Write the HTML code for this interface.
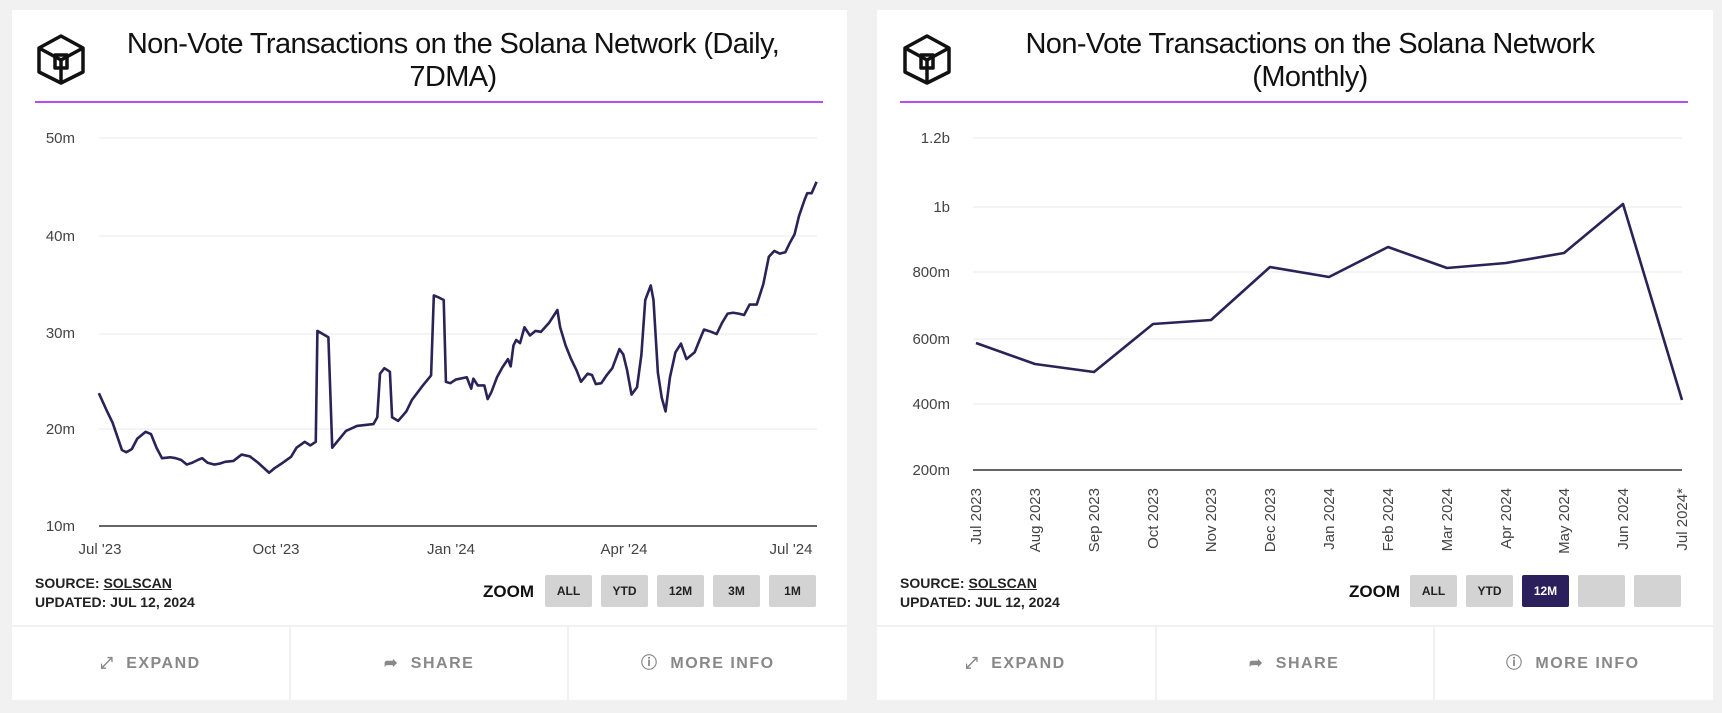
<!DOCTYPE html>
<html><head><meta charset="utf-8"><style>
body{margin:0;width:1722px;height:713px;background:#f1f1f1;font-family:"Liberation Sans",sans-serif;position:relative;overflow:hidden}
.card{position:absolute;top:10px;height:690px;background:#fff}
.abs{position:absolute}
.title{position:absolute;font-size:29px;line-height:33px;color:#111;text-align:center;letter-spacing:-0.6px}
.rule{position:absolute;height:2px;background:#b94cf2}
.yl{position:absolute;font-size:15px;color:#444;text-align:right;width:60px}
.xl{position:absolute;font-size:15px;color:#444;transform:translateX(-50%)}
.src{position:absolute;font-size:14px;font-weight:bold;color:#222;line-height:19px}
.zoom{position:absolute;font-size:17px;font-weight:bold;color:#111}
.btn{position:absolute;width:47px;height:32px;background:#d3d3d3;font-size:12px;font-weight:bold;color:#222;text-align:center;line-height:32px;border-radius:2px}
.foot{position:absolute;top:625px;height:75px;border-top:2px solid #f1f1f1}
.div{position:absolute;top:627px;width:2px;height:73px;background:#f1f1f1}
.ft{position:absolute;top:654px;font-size:16px;font-weight:bold;color:#888;letter-spacing:1.5px;line-height:20px}
.rl{position:absolute;font-size:15px;color:#444;transform-origin:0 0;transform:rotate(-90deg);white-space:nowrap;text-align:right;width:80px}
</style></head><body>
<div class="card" style="left:12px;width:835px"></div>
<div class="card" style="left:877px;width:836px"></div>

<svg class="abs" style="left:36px;top:34px" width="50" height="51" viewBox="0 0 50 51"><g fill="none" stroke="#111" stroke-width="3.5" stroke-linejoin="round"><polygon points="25,2 47,14 47,38 25,49 3,38 3,14"/><polyline points="3,14 25,26 47,14"/><line x1="25" y1="26" x2="25" y2="49"/><rect x="19" y="21" width="12" height="13"/></g></svg>
<svg class="abs" style="left:902px;top:34px" width="50" height="51" viewBox="0 0 50 51"><g fill="none" stroke="#111" stroke-width="3.5" stroke-linejoin="round"><polygon points="25,2 47,14 47,38 25,49 3,38 3,14"/><polyline points="3,14 25,26 47,14"/><line x1="25" y1="26" x2="25" y2="49"/><rect x="19" y="21" width="12" height="13"/></g></svg>

<div class="title" style="left:88px;width:730px;top:28px">Non-Vote Transactions on the Solana Network (Daily,<br>7DMA)</div>
<div class="title" style="left:960px;width:700px;top:28px">Non-Vote Transactions on the Solana Network<br>(Monthly)</div>
<div class="rule" style="left:35px;width:788px;top:101px"></div>
<div class="rule" style="left:900px;width:788px;top:101px"></div>

<svg class="abs" style="left:0;top:0" width="861" height="713">
<g stroke="#e8e8e8" stroke-width="1"><line x1="99" x2="817" y1="138" y2="138"/><line x1="99" x2="817" y1="236" y2="236"/><line x1="99" x2="817" y1="334" y2="334"/><line x1="99" x2="817" y1="429" y2="429"/></g>
<line x1="99" x2="817" y1="526" y2="526" stroke="#333" stroke-width="1.5"/>
<g transform="scale(0.54915,0.45455)"><polyline fill="none" stroke="#2b2257" stroke-width="2.6" vector-effect="non-scaling-stroke" stroke-linejoin="round" points="180,865 195,905 205,930 215,965 222,990 230,995 240,988 250,965 265,950 275,955 285,985 295,1008 310,1006 320,1008 330,1012 340,1022 350,1018 360,1012 368,1008 378,1018 390,1022 400,1020 410,1016 425,1014 440,1000 455,1004 470,1018 490,1040 500,1030 515,1018 530,1005 540,985 555,972 565,980 575,972 578,728 598,742 605,985 615,970 630,948 650,937 680,933 687,918 692,822 700,810 710,818 714,918 725,926 740,905 750,880 770,848 785,826 790,650 800,655 808,660 812,840 820,843 830,835 850,830 858,855 862,833 870,848 882,848 888,878 895,862 905,830 915,808 925,790 930,806 935,760 940,748 947,755 955,720 965,738 975,728 985,730 1000,710 1015,682 1020,720 1030,760 1040,790 1050,815 1058,840 1070,822 1078,825 1085,845 1095,843 1105,825 1115,810 1128,768 1135,780 1142,815 1150,868 1160,852 1168,780 1175,660 1185,628 1190,660 1198,820 1205,875 1212,905 1220,830 1230,775 1240,756 1250,790 1265,775 1275,745 1282,725 1295,730 1305,735 1315,710 1325,690 1335,688 1345,690 1355,693 1365,670 1378,670 1390,625 1400,565 1410,552 1420,558 1430,555 1438,535 1447,515 1455,475 1465,440 1470,425 1478,425 1487,400"/></g>
</svg>
<div class="yl" style="left:15px;top:130px">50m</div>
<div class="yl" style="left:15px;top:228px">40m</div>
<div class="yl" style="left:15px;top:325px">30m</div>
<div class="yl" style="left:15px;top:421px">20m</div>
<div class="yl" style="left:15px;top:518px">10m</div>
<div class="xl" style="left:100px;top:541px">Jul '23</div>
<div class="xl" style="left:276px;top:541px">Oct '23</div>
<div class="xl" style="left:451px;top:541px">Jan '24</div>
<div class="xl" style="left:624px;top:541px">Apr '24</div>
<div class="xl" style="left:791px;top:541px">Jul '24</div>
<div class="src" style="left:35px;top:574px">SOURCE: <u>SOLSCAN</u><br>UPDATED: JUL 12, 2024</div>
<div class="zoom" style="left:483px;top:582px">ZOOM</div>
<div class="btn" style="left:545px;top:575px">ALL</div>
<div class="btn" style="left:601px;top:575px">YTD</div>
<div class="btn" style="left:657px;top:575px">12M</div>
<div class="btn" style="left:713px;top:575px">3M</div>
<div class="btn" style="left:769px;top:575px">1M</div>
<div class="foot" style="left:12px;width:835px"></div>
<div class="div" style="left:289px"></div><div class="div" style="left:567px"></div>
<div class="ft" style="left:100px">⤢&nbsp; EXPAND</div>
<div class="ft" style="left:384px">➦&nbsp; SHARE</div>
<div class="ft" style="left:641px">ⓘ&nbsp; MORE INFO</div>

<svg class="abs" style="left:0;top:0" width="1722" height="713">
<g stroke="#e8e8e8" stroke-width="1"><line x1="973" x2="1682" y1="138" y2="138"/><line x1="973" x2="1682" y1="207" y2="207"/><line x1="973" x2="1682" y1="272" y2="272"/><line x1="973" x2="1682" y1="339" y2="339"/><line x1="973" x2="1682" y1="404" y2="404"/></g>
<line x1="973" x2="1682" y1="470" y2="470" stroke="#333" stroke-width="1.5"/>
<polyline fill="none" stroke="#2b2257" stroke-width="2.6" stroke-linejoin="round" points="976,343 1035,364 1094,372 1153,324 1211,320 1270,267 1329,277 1388,247 1447,268 1506,263 1564,253 1623,204 1682,400"/>
</svg>
<div class="yl" style="left:890px;top:130px">1.2b</div>
<div class="yl" style="left:890px;top:199px">1b</div>
<div class="yl" style="left:890px;top:264px">800m</div>
<div class="yl" style="left:890px;top:331px">600m</div>
<div class="yl" style="left:890px;top:396px">400m</div>
<div class="yl" style="left:890px;top:462px">200m</div>
<div class="rl" style="left:968px;top:568px">Jul 2023</div>
<div class="rl" style="left:1027px;top:568px">Aug 2023</div>
<div class="rl" style="left:1086px;top:568px">Sep 2023</div>
<div class="rl" style="left:1145px;top:568px">Oct 2023</div>
<div class="rl" style="left:1203px;top:568px">Nov 2023</div>
<div class="rl" style="left:1262px;top:568px">Dec 2023</div>
<div class="rl" style="left:1321px;top:568px">Jan 2024</div>
<div class="rl" style="left:1380px;top:568px">Feb 2024</div>
<div class="rl" style="left:1439px;top:568px">Mar 2024</div>
<div class="rl" style="left:1498px;top:568px">Apr 2024</div>
<div class="rl" style="left:1556px;top:568px">May 2024</div>
<div class="rl" style="left:1615px;top:568px">Jun 2024</div>
<div class="rl" style="left:1674px;top:568px">Jul 2024*</div>
<div class="src" style="left:900px;top:574px">SOURCE: <u>SOLSCAN</u><br>UPDATED: JUL 12, 2024</div>
<div class="zoom" style="left:1349px;top:582px">ZOOM</div>
<div class="btn" style="left:1410px;top:575px">ALL</div>
<div class="btn" style="left:1466px;top:575px">YTD</div>
<div class="btn" style="left:1522px;top:575px;background:#2b1f5c;color:#fff">12M</div>
<div class="btn" style="left:1578px;top:575px"></div>
<div class="btn" style="left:1634px;top:575px"></div>
<div class="foot" style="left:877px;width:836px"></div>
<div class="div" style="left:1155px"></div><div class="div" style="left:1433px"></div>
<div class="ft" style="left:965px">⤢&nbsp; EXPAND</div>
<div class="ft" style="left:1249px">➦&nbsp; SHARE</div>
<div class="ft" style="left:1506px">ⓘ&nbsp; MORE INFO</div>
</body></html>
